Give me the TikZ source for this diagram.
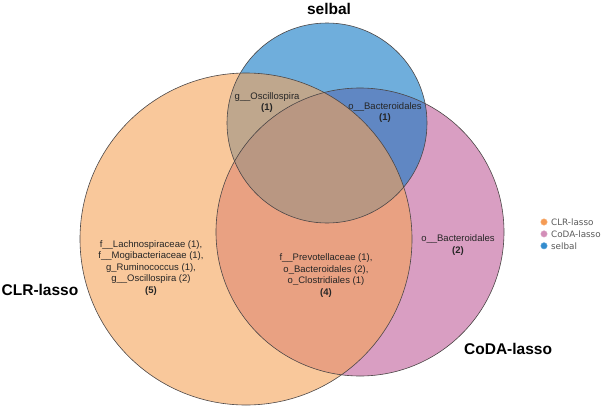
\documentclass[tikz,border=0pt]{standalone}
\usepackage{fontspec}
\setmainfont{Liberation Sans}
\newfontfamily\legendfont{DejaVu Sans}
\usepackage{xcolor}
\usepackage{tikz}
\usetikzlibrary{positioning}
\definecolor{clrCol}{RGB}{245,163,88}
\definecolor{codaCol}{RGB}{192,93,153}
\definecolor{selbalCol}{RGB}{15,120,197}
\definecolor{rimCol}{RGB}{75,70,70}
\tikzset{
    setFill/.style={fill=#1, fill opacity=0.6},
    setRim/.style={draw=rimCol, line width=0.6pt},
    member/.style={align=center, inner sep=0pt, font=\fontsize{9.5}{11.5}\selectfont, text=black!85},
    setName/.style={inner sep=0pt, font=\fontsize{15.5}{18}\selectfont\bfseries},
    legDot/.style={circle, fill=#1, draw=#1!75!white, inner sep=0pt, minimum size=6.5pt},
    legText/.style={inner sep=0pt, font=\legendfont\fontsize{8.8}{10}\selectfont, text=black!65}
}

\begin{document}
\begin{tikzpicture}[x=1pt, y=-1pt]
    \useasboundingbox (0,0) rectangle (605,405);

    % Set areas
    \fill[setFill=codaCol] (360,232) circle (144);
    \fill[setFill=selbalCol] (327,123) circle (100);
    \fill[setFill=clrCol] (246,239) circle (166);

    % Outlines
    \draw[setRim] (360,232) circle (144);
    \draw[setRim] (327,123) circle (100);
    \draw[setRim] (246,239) circle (166);

    % Set names
    \node[setName] (selbalName) at (329,9) {selbal};
    \node[setName] (clrName) at (40,290) {CLR-lasso};
    \node[setName, anchor=west] (codaName) at (464,349) {CoDA-lasso};

    % Members of each region
    \node[member] (clrOnly) at (151,268) {f\_\_Lachnospiraceae (1),\\ f\_\_Mogibacteriaceae (1),\\ g\_Ruminococcus (1),\\ g\_\_Oscillospira (2)\\ \textbf{(5)}};
    \node[member] (clrCoda) at (326,275.5) {f\_\_Prevotellaceae (1),\\ o\_Bacteroidales (2),\\ o\_Clostridiales (1)\\ \textbf{(4)}};
    \node[member] (codaOnly) at (458,245) {o\_\_Bacteroidales\\ \textbf{(2)}};
    \node[member] (clrSelbal) at (267,102.5) {g\_\_Oscillospira\\ \textbf{(1)}};
    \node[member] (codaSelbal) at (385,112.5) {o\_\_Bacteroidales\\ \textbf{(1)}};

    % Legend
    \node[legDot=clrCol!95!red] (dotClr) at (544,222) {};
    \node[legDot=codaCol!70!white, below=5pt of dotClr] (dotCoda) {};
    \node[legDot=selbalCol!85!white, below=5pt of dotCoda] (dotSelbal) {};
    \node[legText, right=3.5pt of dotClr] (txtClr) {CLR-lasso};
    \node[legText, right=3.5pt of dotCoda] (txtCoda) {CoDA-lasso};
    \node[legText, right=3.5pt of dotSelbal] (txtSelbal) {selbal};
\end{tikzpicture}
\end{document}
